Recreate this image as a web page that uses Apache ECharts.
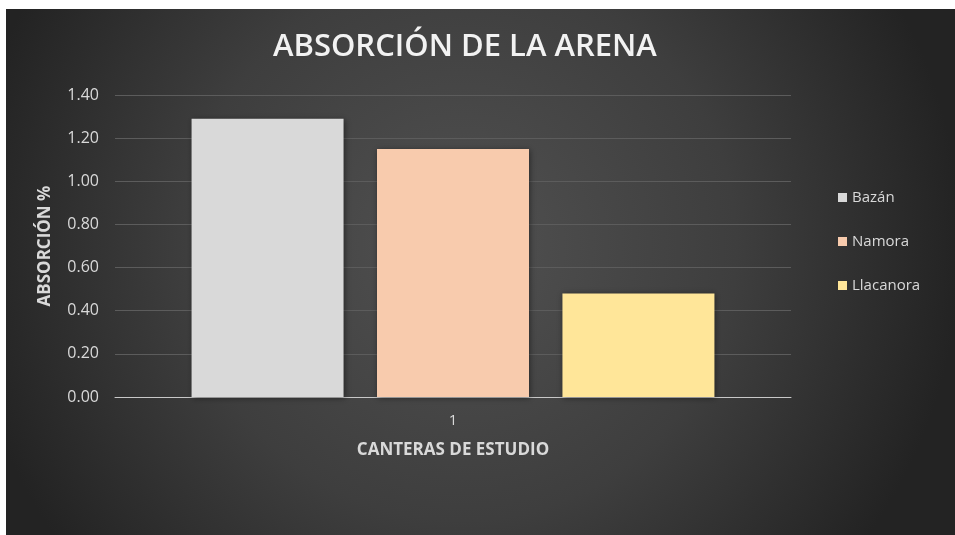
<!DOCTYPE html>
<html>
<head>
<meta charset="utf-8">
<script src="https://cdn.jsdelivr.net/npm/echarts@6/dist/echarts.min.js"></script>
<style>
html,body{margin:0;padding:0;background:#fff;}
#chart{width:955px;height:535px;}
</style>
</head>
<body>
<div id="chart"></div>
<script>
const categories = ['1'];
const seriesNames = ['Bazán', 'Namora', 'Llacanora'];
const bazan = [1.29];
const namora = [1.15];
const llacanora = [0.48];
const yTicks = { min: 0, max: 1.4, interval: 0.2 };

const colors = ['#d9d9d9', '#f8cbad', '#ffe699'];
const values = [bazan, namora, llacanora];

const chart = echarts.init(document.getElementById('chart'));
const font = 'Open Sans, Liberation Sans, sans-serif';

chart.setOption({
  backgroundColor: '#ffffff',
  graphic: [{
    type: 'rect',
    z: -10,
    silent: true,
    shape: { x: 6, y: 9, width: 949, height: 526 },
    style: {
      fill: new echarts.graphic.RadialGradient(0.48, 0.45, 0.95, [
        { offset: 0, color: '#515151' },
        { offset: 0.55, color: '#3e3e3e' },
        { offset: 1, color: '#232323' }
      ])
    }
  }],
  title: {
    text: 'ABSORCIÓN DE LA ARENA',
    left: 268,
    top: 27,
    textStyle: { color: '#f2f2f2', fontSize: 31, fontWeight: 600, fontFamily: font }
  },
  legend: {
    orient: 'vertical',
    left: 838,
    top: 190,
    padding: 0,
    itemWidth: 9,
    itemHeight: 9,
    itemGap: 29,
    icon: 'rect',
    textStyle: { color: '#d9d9d9', fontSize: 15, fontFamily: font },
    data: seriesNames
  },
  grid: { left: 115, right: 164, top: 95, bottom: 138 },
  xAxis: {
    type: 'category',
    data: categories,
    name: 'CANTERAS DE ESTUDIO',
    nameLocation: 'middle',
    nameGap: 45,
    nameTextStyle: { color: '#d9d9d9', fontSize: 17, fontWeight: 'bold', fontFamily: font },
    axisLine: { lineStyle: { color: '#c8c8c8', width: 1 } },
    axisTick: { show: false },
    axisLabel: { color: '#d9d9d9', fontSize: 15, fontFamily: font, margin: 16 }
  },
  yAxis: {
    type: 'value',
    min: yTicks.min,
    max: yTicks.max,
    interval: yTicks.interval,
    name: 'ABSORCIÓN %',
    nameLocation: 'middle',
    nameGap: 61,
    nameTextStyle: { color: '#d9d9d9', fontSize: 17, fontWeight: 'bold', fontFamily: font },
    axisLine: { show: false },
    axisTick: { show: false },
    axisLabel: { color: '#d9d9d9', fontSize: 16, fontFamily: font, margin: 16, formatter: v => v.toFixed(2) },
    splitLine: { lineStyle: { color: '#5c5c5c', width: 1 } }
  },
  series: seriesNames.map((n, i) => ({
    name: n,
    type: 'bar',
    data: values[i],
    barWidth: 152,
    barGap: '22%',
    itemStyle: {
      color: colors[i],
      shadowColor: 'rgba(0,0,0,0.45)',
      shadowBlur: 6,
      shadowOffsetX: 1,
      shadowOffsetY: 1
    }
  }))
});
</script>
</body>
</html>
